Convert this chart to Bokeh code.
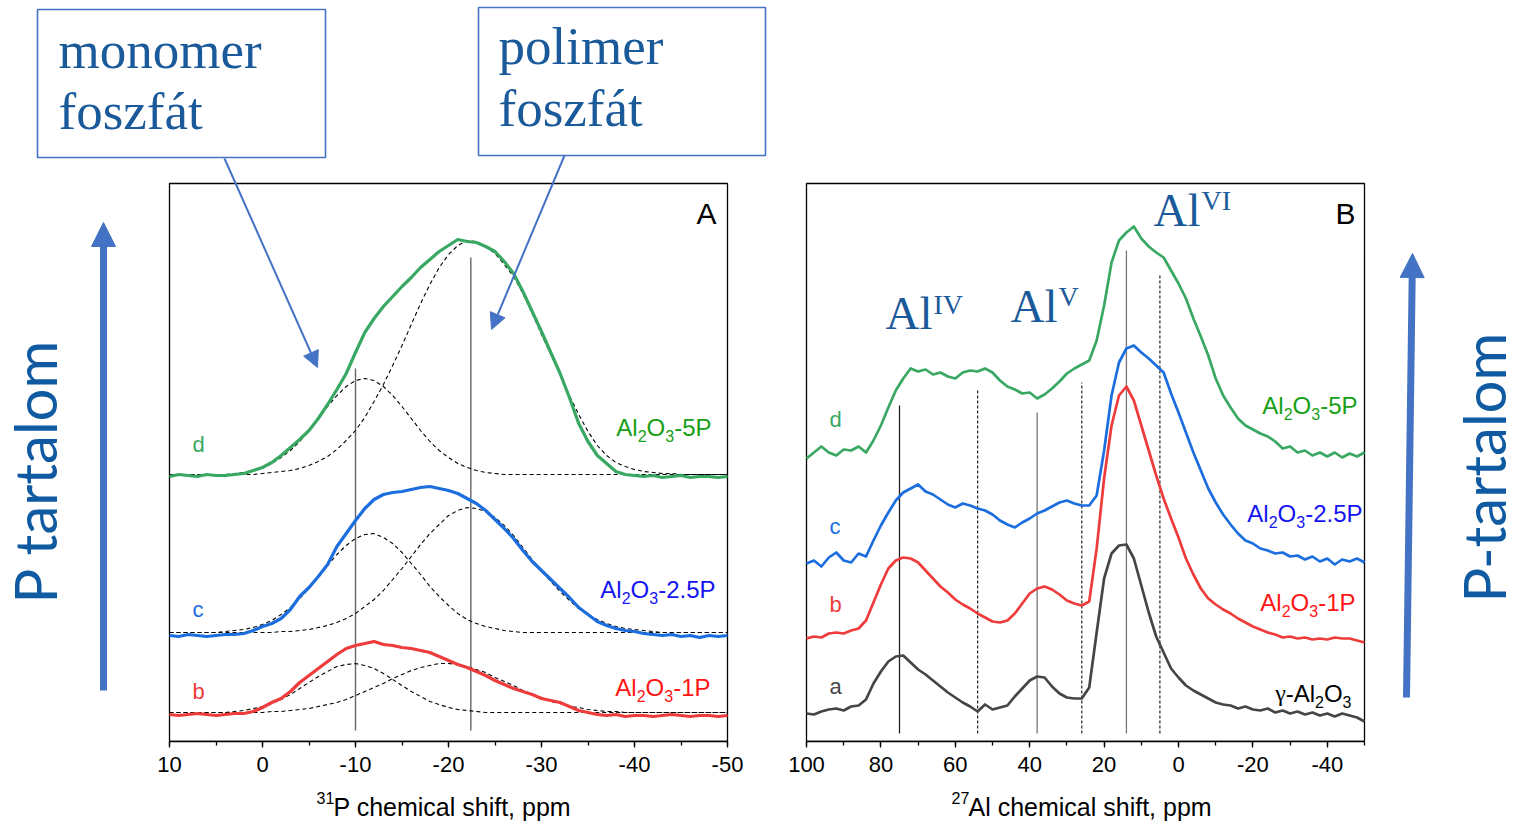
import math
from bokeh.plotting import figure
from bokeh.models import Range1d, SingleIntervalTicker, Arrow, NormalHead, PrintfTickFormatter
from bokeh.layouts import row, column
from bokeh.core.properties import value
from bokeh.embed import file_html
from bokeh.resources import INLINE

# ---------------- data ----------------
# Panel A: 31P MAS NMR, ppm axis 10 .. -50 (1 ppm steps)
PPM_A = list(range(10, -51, -1))
A_5P = [265, 267, 266, 265, 267, 266, 266, 267, 268, 271,
        274, 279, 286, 294, 302, 311, 323, 337, 352, 368,
        389, 409, 423, 435, 445, 455, 464, 474, 482, 490,
        496, 502, 500, 499, 495, 490, 480, 468, 450, 430,
        410, 389, 368, 344, 318, 300, 286, 278, 270, 267,
        266, 265, 266, 264, 265, 266, 264, 265, 265, 264, 265]
A_5P_MONO = [267, 267, 267, 267, 267, 267, 267, 268, 269, 271,
             274, 278, 284, 291, 300, 311, 323, 335, 346, 355,
             361, 363, 361, 355, 346, 335, 323, 311, 300, 291,
             284, 278, 274, 271, 269, 268] + [267] * 25
A_5P_POLY = [267, 267, 267, 267, 267, 267, 267, 267, 267, 267,
             268, 269, 270, 271, 273, 276, 280, 285, 292, 301,
             311, 324, 340, 357, 376, 396, 417, 438, 457, 474,
             487, 496, 501, 500, 495, 488, 477, 465, 448, 428,
             407, 387, 367, 346, 327, 310, 296, 286, 279, 275,
             272, 270, 269, 268, 268, 267, 267, 267, 267, 267, 267]
A_25P = [106, 105, 107, 106, 105, 106, 107, 107, 108, 111,
         115, 118, 123, 132, 145, 154, 165, 177, 195, 208,
         221, 233, 242, 247, 249, 250, 252, 254, 255, 253,
         251, 248, 243, 238, 231, 222, 213, 203, 191, 180,
         171, 162, 153, 144, 134, 127, 120, 116, 113, 111,
         110, 108, 107, 106, 107, 105, 106, 104, 106, 105, 106]
A_25P_MONO = [109, 109, 109, 109, 109, 109, 110, 111, 112, 114,
              117, 121, 127, 134, 143, 153, 164, 176, 187, 196,
              203, 207, 208, 204, 198, 189, 178, 167, 155, 145,
              136, 128, 122, 118, 115, 113, 111, 110] + [109] * 23
A_25P_POLY = [109] * 12 + [110, 110, 111, 112, 114, 116, 119, 123,
              128, 135, 142, 151, 162, 173, 185, 197, 208, 217,
              226, 231, 234, 233, 230, 224, 216, 206, 194, 182,
              171, 160, 150, 141, 133, 127, 122, 118, 115, 113,
              112, 111, 110] + [109] * 8
A_1P = [27, 26, 27, 28, 27, 26, 27, 28, 28, 30,
        34, 39, 43, 50, 59, 66, 73, 80, 87, 93,
        96, 98, 100, 97, 96, 94, 93, 91, 89, 85,
        81, 77, 74, 70, 66, 61, 57, 53, 50, 47,
        43, 41, 39, 35, 31, 29, 27, 26, 27, 25,
        26, 26, 25, 26, 27, 26, 25, 26, 26, 25, 26]
A_1P_MONO = [29] * 7 + [30, 31, 33, 35, 38, 42, 47, 53, 59, 65, 70, 75, 77,
             78, 76, 73, 68, 62, 56, 50, 45, 40, 37, 34, 32, 31, 30] + [29] * 27
A_1P_POLY = [29] * 11 + [30, 30, 31, 32, 33, 35, 37, 39, 42,
             46, 50, 54, 58, 63, 67, 71, 74, 76, 78,
             78, 77, 75, 72, 69, 64, 60, 56, 51, 47,
             44, 40, 38, 35, 34, 32, 31, 30, 30] + [29] * 12
VLINES_A = [-10, -22.4]
VLINE_TOPS_A = [373, 484]

# Panel B: 27Al MAS NMR, ppm axis 100 .. -50 (2 ppm steps)
PPM_B = list(range(100, -51, -2))
B_5P = [283, 289, 295, 289, 286, 292, 291, 295, 289, 301,
        316, 334, 351, 363, 373, 370, 372, 367, 369, 365,
        363, 369, 371, 370, 373, 369, 361, 355, 352, 348,
        349, 343, 347, 353, 360, 368, 373, 377, 381, 401,
        436, 479, 501, 509, 515, 503, 495, 489, 484, 471,
        458, 443, 423, 405, 386, 363, 346, 334, 323, 316,
        312, 308, 305, 300, 293, 295, 289, 291, 286, 289,
        285, 289, 284, 288, 285, 289]
B_25P = [178, 181, 175, 184, 189, 181, 179, 188, 185, 201,
         216, 229, 241, 249, 253, 257, 250, 247, 242, 237,
         234, 238, 236, 233, 231, 227, 221, 217, 214, 219,
         223, 228, 231, 235, 239, 241, 238, 236, 236, 246,
         291, 346, 379, 393, 396, 389, 383, 376, 369, 348,
         329, 309, 289, 271, 253, 239, 227, 217, 208, 201,
         198, 193, 191, 188, 189, 185, 186, 182, 185, 180,
         183, 177, 182, 180, 183, 179]
B_1P = [103, 105, 104, 108, 109, 108, 111, 113, 121, 139,
        157, 173, 181, 184, 183, 179, 171, 163, 155, 149,
        142, 137, 133, 128, 124, 120, 119, 121, 128, 138,
        148, 153, 155, 152, 147, 141, 138, 136, 140, 193,
        263, 316, 346, 355, 341, 316, 291, 266, 243, 223,
        204, 183, 167, 153, 143, 137, 132, 128, 123, 119,
        115, 112, 109, 107, 104, 105, 103, 104, 102, 103,
        102, 104, 103, 103, 101, 99]
B_GAMMA = [28, 27, 30, 32, 33, 31, 35, 36, 42, 58,
           70, 80, 85, 86, 79, 72, 67, 61, 55, 49,
           44, 39, 35, 30, 37, 32, 34, 36, 45, 53,
           61, 65, 64, 55, 48, 44, 43, 43, 54, 109,
           163, 188, 196, 197, 183, 156, 129, 105, 89, 73,
           64, 56, 51, 47, 43, 39, 37, 36, 33, 35,
           32, 31, 33, 29, 31, 28, 30, 27, 29, 26,
           28, 25, 28, 26, 24, 20]
VLINES_B_SOLID = [75, 38, 14]
VLINES_B_SOLID_TOPS = [336, 329, 491]
VLINES_B_SOLID_COLORS = ["#222222", "#777777", "#777777"]
VLINES_B_DASHED = [54, 26, 5]
VLINES_B_DASHED_TOPS = [353, 359, 467]

A_TICKS = (10, -50)
B_TICKS = (100, -50)
A_TITLE = ("31", "P chemical shift, ppm")
B_TITLE = ("27", "Al chemical shift, ppm")

# ---------------- geometry ----------------
H = 824
STRIP = 34               # strip at the bottom holding the axis titles
PLOT_H = H - STRIP
FH = 741                 # frame height; y data == px above frame bottom
BOTTOM = PLOT_H - FH
PANEL_TOP = FH - 183
WA, WB = 785, 733
A_L, A_R = 169, 727
B_L, B_R = 806, 1364
BASE_K = 0.42            # correction of the alphabetic baseline (em)


def mapper(v_l, v_r, pan_l, pan_r):
    s = (v_l - v_r) / (pan_r - pan_l)
    return lambda px: v_l - (px - pan_l) * s


fxa = mapper(A_TICKS[0], A_TICKS[1], A_L, A_R)
fxb = mapper(B_TICKS[0], B_TICKS[1], B_L, B_R)


def fy(py):
    return FH - py


GREEN, BLUE, RED, GRAY = "#38A863", "#1C6EDF", "#EE3B3B", "#454545"
GREEN_T, BLUE_T, RED_T = "#16A016", "#1414F0", "#FF1414"
DARKBLUE = "#1B5A9A"
OFFICE = "#4472C4"
SANS = "Liberation Sans"
SERIF = "Liberation Serif"


def bare(p):
    p.outline_line_color = None
    p.grid.visible = False
    p.background_fill_color = "white"
    p.border_fill_color = "white"


def make_fig(width, xr, bounds, interval):
    p = figure(width=width, height=PLOT_H, x_range=Range1d(*xr), y_range=Range1d(0, FH),
               output_backend="svg", toolbar_location=None, y_axis_location=None,
               min_border_left=0, min_border_right=0, min_border_top=0,
               min_border_bottom=BOTTOM)
    bare(p)
    ax = p.xaxis[0]
    ax.bounds = (min(bounds), max(bounds))
    ax.ticker = SingleIntervalTicker(interval=interval, num_minor_ticks=2)
    ax.formatter = PrintfTickFormatter(format="%d")
    ax.major_label_text_font = SANS
    ax.major_label_text_font_size = "22px"
    ax.major_label_standoff = 9
    ax.major_tick_out = 6
    ax.major_tick_in = 0
    ax.minor_tick_out = 4
    ax.minor_tick_in = 0
    for attr in ("axis_line_width", "major_tick_line_width", "minor_tick_line_width"):
        setattr(ax, attr, 1.3)
    ax.axis_line_color = "black"
    ax.major_tick_line_color = "black"
    ax.minor_tick_line_color = "black"
    ax.major_label_text_color = "black"
    p.quad(left=[bounds[0]], right=[bounds[1]], bottom=[0], top=[PANEL_TOP],
           fill_color=None, line_color="black", line_width=1.3)
    return p


def txt(p, fx, px, py, s, font, size, color, align="left", baseline="alphabetic"):
    if baseline == "alphabetic":
        py = py - BASE_K * size
    p.text(x=[fx(px)], y=[fy(py)], text=[s], text_font=value(font),
           text_font_size=value(f"{size}px"), text_color=color,
           text_align=align, text_baseline=baseline)


def vtxt(p, fx, px_base, py_start, s, font, size, color):
    # text rotated 90 deg CCW, reading bottom to top; px_base = baseline x
    p.text(x=[fx(px_base - BASE_K * size)], y=[fy(py_start)], text=[s],
           text_font=value(font), text_font_size=value(f"{size}px"), text_color=color,
           text_align="left", text_baseline="alphabetic", angle=math.pi / 2)


EM = {"A": .667, "l": .222, "O": .778, "-": .333, ".": .278, "P": .667, "γ": .44}


def rich(p, fx, px, py, parts, size, color, align="left"):
    segs, total = [], 0.0
    for s, kind in parts:
        sz = round(size * 0.68) if kind != "n" else size
        font = SERIF if s == "γ" else SANS
        w = sum(EM.get(ch, .556) for ch in s) * sz
        dy = {"n": 0.0, "sub": 0.22 * size, "sup": -0.38 * size}[kind]
        segs.append((s, sz, font, w, dy))
        total += w
    x = px - total if align == "right" else px
    for s, sz, font, w, dy in segs:
        txt(p, fx, x, py + dy, s, font, sz, color)
        x += w


def al_formula(tail):
    return [("Al", "n"), ("2", "sub"), ("O", "n"), ("3", "sub")] + ([(tail, "n")] if tail else [])


# ---------------- Panel A ----------------
pA = make_fig(WA, (fxa(0), fxa(WA)), A_TICKS, 10)

pA.segment(x0=VLINES_A, y0=[11, 11], x1=VLINES_A, y1=VLINE_TOPS_A,
           line_color="#666666", line_width=1.4)

for comp in (A_5P_MONO, A_5P_POLY, A_25P_MONO, A_25P_POLY, A_1P_MONO, A_1P_POLY):
    pA.line(PPM_A, comp, line_color="black", line_width=1.1, line_dash="4 3")

for ys, col in ((A_5P, GREEN), (A_25P, BLUE), (A_1P, RED)):
    pA.line(PPM_A, ys, line_color=col, line_width=3.2, line_join="round")

rich(pA, fxa, 711, 437, al_formula("-5P"), 24, GREEN_T, align="right")
rich(pA, fxa, 715, 599, al_formula("-2.5P"), 24, BLUE_T, align="right")
rich(pA, fxa, 710, 697, al_formula("-1P"), 24, RED_T, align="right")
txt(pA, fxa, 192, 453, "d", SANS, 22, GREEN)
txt(pA, fxa, 192, 618, "c", SANS, 22, BLUE)
txt(pA, fxa, 192, 700, "b", SANS, 22, RED)
txt(pA, fxa, 706, 213, "A", SANS, 30, "black", align="center", baseline="middle")

pA.quad(left=[fxa(37), fxa(478)], right=[fxa(325), fxa(765)],
        bottom=[fy(157), fy(155)], top=[fy(9), fy(7)],
        fill_color="white", line_color=OFFICE, line_width=1.6)
txt(pA, fxa, 58, 72, "monomer", SERIF, 53, DARKBLUE)
txt(pA, fxa, 58, 133, "foszfát", SERIF, 53, DARKBLUE)
txt(pA, fxa, 498, 68, "polimer", SERIF, 53, DARKBLUE)
txt(pA, fxa, 498, 130, "foszfát", SERIF, 53, DARKBLUE)

pA.add_layout(Arrow(end=NormalHead(size=16, fill_color=OFFICE, line_color=OFFICE),
                    x_start=fxa(224), y_start=fy(158), x_end=fxa(317), y_end=fy(367),
                    line_color=OFFICE, line_width=2))
pA.add_layout(Arrow(end=NormalHead(size=16, fill_color=OFFICE, line_color=OFFICE),
                    x_start=fxa(564), y_start=fy(155), x_end=fxa(491), y_end=fy(329),
                    line_color=OFFICE, line_width=2))

vtxt(pA, fxa, 58, 603, "P tartalom", "Lato", 58, "#0F5AA0")
pA.add_layout(Arrow(end=NormalHead(size=24, fill_color=OFFICE, line_color=OFFICE),
                    x_start=fxa(103), y_start=fy(690), x_end=fxa(103), y_end=fy(222),
                    line_color=OFFICE, line_width=7))

# ---------------- Panel B ----------------
pB = make_fig(WB, (fxb(WA), fxb(WA + WB)), B_TICKS, 20)

pB.segment(x0=VLINES_B_SOLID, y0=[8, 8, 8], x1=VLINES_B_SOLID, y1=VLINES_B_SOLID_TOPS,
           line_color=VLINES_B_SOLID_COLORS, line_width=1.3)
pB.segment(x0=VLINES_B_DASHED, y0=[8, 8, 8], x1=VLINES_B_DASHED, y1=VLINES_B_DASHED_TOPS,
           line_color="#222222", line_width=1.2, line_dash="3 2")

for ys, col in ((B_GAMMA, GRAY), (B_1P, RED), (B_25P, BLUE), (B_5P, GREEN)):
    pB.line(PPM_B, ys, line_color=col, line_width=2.7, line_join="round")

rich(pB, fxb, 1357, 415, al_formula("-5P"), 24, GREEN_T, align="right")
rich(pB, fxb, 1362, 523, al_formula("-2.5P"), 24, BLUE_T, align="right")
rich(pB, fxb, 1355, 612, al_formula("-1P"), 24, RED_T, align="right")
rich(pB, fxb, 1351, 703, [("γ", "n"), ("-Al", "n"), ("2", "sub"), ("O", "n"), ("3", "sub")],
     24, "black", align="right")
txt(pB, fxb, 829, 428, "d", SANS, 22, GREEN)
txt(pB, fxb, 829, 535, "c", SANS, 22, BLUE)
txt(pB, fxb, 829, 613, "b", SANS, 22, RED)
txt(pB, fxb, 829, 695, "a", SANS, 22, GRAY)
txt(pB, fxb, 1345, 213, "B", SANS, 30, "black", align="center", baseline="middle")

for (ax_px, base_py, sup, sup_base) in ((885, 332, "IV", 316), (1010, 325, "V", 308),
                                         (1153, 229, "VI", 212)):
    txt(pB, fxb, ax_px, base_py, "Al", SERIF, 47, DARKBLUE)
    txt(pB, fxb, ax_px + 48, sup_base, sup, SERIF, 28, DARKBLUE)

vtxt(pB, fxb, 1507, 602, "P-tartalom", "Lato", 58, "#0F5AA0")
pB.add_layout(Arrow(end=NormalHead(size=24, fill_color=OFFICE, line_color=OFFICE),
                    x_start=fxb(1406), y_start=fy(697), x_end=fxb(1412), y_end=fy(253),
                    line_color=OFFICE, line_width=7))

# ---------------- axis titles strip ----------------
strip = figure(width=WA + WB, height=STRIP, x_range=Range1d(0, WA + WB),
               y_range=Range1d(PLOT_H + STRIP, PLOT_H), output_backend="svg",
               toolbar_location=None, x_axis_location=None, y_axis_location=None,
               min_border_left=0, min_border_right=0, min_border_top=0, min_border_bottom=0)
bare(strip)
for (sup, main), left in ((A_TITLE, 316), (B_TITLE, 951)):
    strip.text(x=[left], y=[797], text=[sup], text_font=value(SANS),
               text_font_size=value("16px"), text_color="black",
               text_align="left", text_baseline="middle")
    strip.text(x=[left + 17], y=[806], text=[main], text_font=value(SANS),
               text_font_size=value("25px"), text_color="black",
               text_align="left", text_baseline="middle")

layout = column(row(pA, pB), strip)
open("out.html", "w").write(file_html(layout, INLINE))
